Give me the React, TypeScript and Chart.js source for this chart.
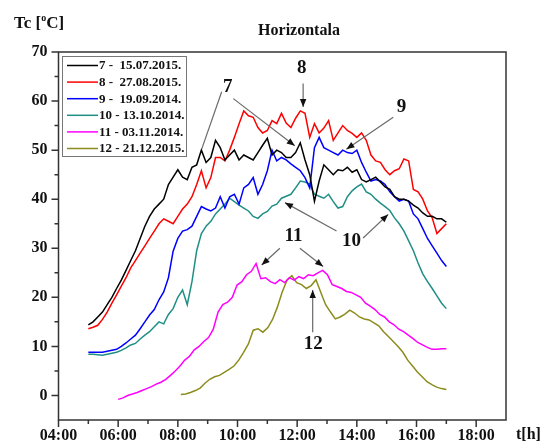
import React, { useEffect, useRef } from "react";
import { Chart, registerables } from "chart.js";

Chart.register(...registerables);

// ---------------- data ----------------
const seriesLabels = [
  "7 -  15.07.2015.",
  "8 -  27.08.2015.",
  "9 -  19.09.2014.",
  "10 - 13.10.2014.",
  "11 - 03.11.2014.",
  "12 - 21.12.2015.",
];
const seriesColors = ["#000000", "#ff0000", "#0000ff", "#1f8f86", "#ff00ff", "#8c8c1e"];
const seriesStartHour = [5, 5, 5, 5, 6, 8.1];
const seriesEndHour = [17, 17, 17, 17, 17, 17];

const s7 = [
  14.4, 15, 16, 17, 18.5, 20, 21.8, 23.5, 25.5, 27.5, 29.5, 32, 34.5, 36.5, 38, 39, 40, 43,
  44.5, 46, 44.5, 44, 46.5, 47, 50, 47.5, 48.5, 52, 50.5, 48, 49, 50, 48, 49, 48.5, 48,
  49.5, 51, 52.4, 49, 50, 49.5, 48.5, 48.5, 49.5, 51.5, 48, 45, 39.6, 43.7, 47, 46, 45, 46,
  45.8, 46.5, 45.5, 46, 44, 43.5, 44, 44.5, 43.5, 42.5, 42, 40.5, 40, 40, 39.6, 38.8, 38.2,
  37.2, 36.5, 36.5, 36, 36, 35.3,
];
const s8 = [
  13.6, 13.9, 14.3, 15.5, 17, 18.8, 20.5, 22.3, 24, 26, 27.5, 29, 30.5, 32, 33.5, 35, 36, 35.5,
  35, 36.5, 38, 39, 40.5, 43, 45.8, 42.3, 44.4, 48.5, 48.5, 47.8, 50, 52.6, 55.4, 58, 57, 56.7,
  54.6, 53.5, 54, 56, 55.4, 57.5, 55.5, 54.6, 56.5, 58, 57.5, 52.6, 55.4, 53.5, 54.5, 56, 52, 53.5,
  55, 54, 53.4, 52.6, 53.5, 52, 49, 47.8, 47.5, 46, 45, 45.8, 46.2, 48.2, 47.8, 42, 41.5, 40,
  37.6, 36.2, 33, 34, 35,
];
const s9 = [
  8.8, 8.8, 8.8, 8.8, 9, 9.2, 9.4, 10, 10.7, 11.5, 12.3, 13.6, 15, 16.4, 17.5, 19.5, 21.1, 24,
  29.4, 32, 33.5, 33.8, 34.5, 36.5, 38.5, 38, 37.6, 38.2, 40.5, 38.2, 40.5, 41, 39, 42.3, 43, 44.4,
  41, 43, 45.8, 50, 47.8, 48.5, 48, 47.2, 46.5, 45.8, 44.4, 42.3, 50.5, 52.6, 50.5, 50, 49.5, 49,
  50, 49.5, 49.3, 50, 47.5, 45.5, 43.7, 44, 43.7, 43, 41.5, 40.5, 39.6, 40, 39.6, 37, 36, 34,
  32, 30.5, 29, 27.5, 26.3,
];
const s10 = [
  8.4, 8.4, 8.3, 8.2, 8.4, 8.6, 8.8, 9.2, 9.7, 10.3, 10.6, 11.5, 12.3, 13, 14, 15, 14.6, 16.5,
  17.7, 20, 21.5, 18.5, 23.2, 29.5, 33, 34.5, 35.5, 37, 38, 39, 40.2, 39.5, 38.8, 38.2, 37.6, 36.5,
  36.1, 37, 37.5, 38.6, 39, 40.2, 40.6, 41, 42.3, 43.7, 43.5, 43.1, 41, 40.6, 40.2, 41, 39.5, 38.2,
  38.5, 40.5, 41.7, 42.5, 43.1, 41.5, 41, 40, 39.2, 38.5, 37.7, 36.2, 35, 33.5, 31.5, 29.5, 27, 24.8,
  23.2, 21.8, 20.3, 18.8, 17.7,
];
const s11 = [
  -0.8, -0.5, 0, 0.3, 0.6, 1, 1.4, 1.8, 2.3, 2.7, 3.3, 4.1, 5, 6, 7.2, 8, 9.3, 10, 11, 11.8,
  13.5, 17, 18.5, 19, 20, 22.5, 23.2, 24.6, 25.3, 26.9, 23.8, 24, 23.2, 22.8, 23.6, 23, 24, 23.5,
  24.2, 23.8, 24.6, 24.4, 25, 25.5, 24.6, 22.6, 22.2, 21.8, 21.2, 21, 20.5, 20, 18.8, 18.2, 17.5,
  16.5, 16, 15, 14.4, 13.5, 13, 12.3, 11.6, 10.8, 10.3, 9.8, 9.4, 9.4, 9.5, 9.5,
];
const s12 = [
  0.2, 0.3, 0.6, 1, 1.5, 2.5, 3.3, 3.8, 4.1, 4.7, 5.3, 6, 7.2, 8.8, 10.5, 13.3, 13.6, 12.9,
  13.8, 15.5, 18, 21.1, 23.5, 24.4, 23, 22.6, 21.8, 22.4, 23.6, 21, 18.5, 17, 15.6, 16, 16.6,
  17.4, 16.8, 16, 15.6, 15.4, 14.8, 14.2, 13, 12, 11, 10, 8.8, 7.2, 6, 4.8, 3.8, 2.8, 2.2, 1.7,
  1.4, 1.2,
];
const seriesValues = [s7, s8, s9, s10, s11, s12];

const xTickHours = [4, 6, 8, 10, 12, 14, 16, 18];
const xMinorHours = [5, 7, 9, 11, 13, 15, 17];
const yTickValues = [0, 10, 20, 30, 40, 50, 60, 70];
const yMinorValues = [5, 15, 25, 35, 45, 55, 65];

// annotation labels (text, hour, value)
const annotLabels = ["7", "8", "9", "10", "11", "12"];
const annotLabelPos = [
  [9.67, 62.9],
  [12.15, 66.7],
  [15.5, 58.8],
  [13.82, 31.4],
  [11.88, 32.4],
  [12.54, 10.5],
];
// arrows: [x1, y1, x2, y2, head]
const annotArrows = [
  [9.47, 61.9, 8.8, 50.2, 0],
  [9.86, 60.5, 11.92, 50.9, 1],
  [12.2, 63.6, 12.2, 58.8, 1],
  [15.22, 56.7, 13.65, 50.2, 1],
  [13.32, 33.5, 11.59, 39.3, 1],
  [14.21, 32.1, 15.05, 36.9, 1],
  [11.42, 30.0, 10.81, 26.6, 1],
  [12.09, 30.0, 12.87, 26.3, 1],
  [12.52, 12.9, 12.52, 21.5, 1],
];

const FONT = "'Liberation Serif', 'Times New Roman', serif";

function pad2(n: number) {
  return (n < 10 ? "0" : "") + n;
}

const overlayPlugin = {
  id: "overlay",
  afterDatasetsDraw(chart: any) {
    const ctx = chart.ctx;
    const xs = chart.scales.x;
    const ys = chart.scales.y;
    ctx.save();
    // arrows
    annotArrows.forEach((a) => {
      const x1 = xs.getPixelForValue(a[0]);
      const y1 = ys.getPixelForValue(a[1]);
      const x2 = xs.getPixelForValue(a[2]);
      const y2 = ys.getPixelForValue(a[3]);
      ctx.strokeStyle = "#6a6a6a";
      ctx.lineWidth = 1.2;
      ctx.beginPath();
      ctx.moveTo(x1, y1);
      ctx.lineTo(x2, y2);
      ctx.stroke();
      if (a[4]) {
        const ang = Math.atan2(y2 - y1, x2 - x1);
        const L = 8;
        const W = 3.2;
        ctx.fillStyle = "#111";
        ctx.beginPath();
        ctx.moveTo(x2, y2);
        ctx.lineTo(x2 - L * Math.cos(ang) + W * Math.sin(ang), y2 - L * Math.sin(ang) - W * Math.cos(ang));
        ctx.lineTo(x2 - L * Math.cos(ang) - W * Math.sin(ang), y2 - L * Math.sin(ang) + W * Math.cos(ang));
        ctx.closePath();
        ctx.fill();
      }
    });
    // labels
    ctx.fillStyle = "#111";
    ctx.font = `bold 19px ${FONT}`;
    ctx.textAlign = "center";
    ctx.textBaseline = "middle";
    annotLabels.forEach((t, i) => {
      ctx.fillText(t, xs.getPixelForValue(annotLabelPos[i][0]), ys.getPixelForValue(annotLabelPos[i][1]));
    });
    ctx.restore();
  },
  afterDraw(chart: any) {
    const ctx = chart.ctx;
    const area = chart.chartArea;
    const xs = chart.scales.x;
    const ys = chart.scales.y;
    ctx.save();
    // frame
    ctx.strokeStyle = "#333";
    ctx.lineWidth = 1.5;
    ctx.strokeRect(area.left, area.top, area.right - area.left, area.bottom - area.top);
    // ticks
    ctx.beginPath();
    xTickHours.forEach((h) => {
      const p = xs.getPixelForValue(h);
      ctx.moveTo(p, area.bottom);
      ctx.lineTo(p, area.bottom + 7);
    });
    xMinorHours.forEach((h) => {
      const p = xs.getPixelForValue(h);
      ctx.moveTo(p, area.bottom);
      ctx.lineTo(p, area.bottom + 4);
    });
    yTickValues.forEach((v) => {
      const p = ys.getPixelForValue(v);
      ctx.moveTo(area.left, p);
      ctx.lineTo(area.left - 7, p);
    });
    yMinorValues.forEach((v) => {
      const p = ys.getPixelForValue(v);
      ctx.moveTo(area.left, p);
      ctx.lineTo(area.left - 4, p);
    });
    ctx.stroke();

    ctx.fillStyle = "#111";
    // title
    ctx.font = `bold 16px ${FONT}`;
    ctx.textAlign = "center";
    ctx.textBaseline = "middle";
    ctx.fillText("Horizontala", 299, 31);
    // y axis label
    ctx.textAlign = "left";
    ctx.font = `bold 17px ${FONT}`;
    let x = 14;
    const yl = 24;
    ctx.fillText("Tc [", x, yl);
    x += ctx.measureText("Tc [").width;
    ctx.font = `bold 10px ${FONT}`;
    ctx.fillText("o", x, yl - 6);
    x += ctx.measureText("o").width;
    ctx.font = `bold 17px ${FONT}`;
    ctx.fillText("C]", x, yl);
    // x axis label
    ctx.font = `bold 16px ${FONT}`;
    ctx.fillText("t[h]", 516, 435);

    // legend
    const lx = 62;
    const ly = 56;
    const lw = 124;
    const lh = 100;
    ctx.fillStyle = "#fff";
    ctx.fillRect(lx, ly, lw, lh);
    ctx.strokeStyle = "#777";
    ctx.lineWidth = 1;
    ctx.strokeRect(lx + 0.5, ly + 0.5, lw, lh);
    ctx.font = `bold 13px ${FONT}`;
    ctx.textBaseline = "middle";
    ctx.textAlign = "left";
    seriesLabels.forEach((lab, i) => {
      const yy = ly + 9.5 + i * 16.6;
      ctx.strokeStyle = seriesColors[i];
      ctx.lineWidth = 1.5;
      ctx.beginPath();
      ctx.moveTo(lx + 5, yy);
      ctx.lineTo(lx + 36, yy);
      ctx.stroke();
      ctx.fillStyle = "#111";
      ctx.fillText(lab, lx + 37, yy + 0.5);
    });
    ctx.restore();
  },
};

export default function App() {
  const canvasRef = useRef<HTMLCanvasElement | null>(null);

  useEffect(() => {
    const canvas = canvasRef.current;
    if (!canvas) return;
    const datasets = seriesValues.map((vals, i) => {
      const n = vals.length;
      const t0 = seriesStartHour[i];
      const t1 = seriesEndHour[i];
      return {
        label: seriesLabels[i],
        data: vals.map((v, k) => ({ x: t0 + ((t1 - t0) * k) / (n - 1), y: v })),
        borderColor: seriesColors[i],
        backgroundColor: seriesColors[i],
        borderWidth: 1.5,
        pointRadius: 0,
        tension: 0,
        fill: false,
      };
    });
    const chart = new Chart(canvas, {
      type: "line",
      data: { datasets },
      options: {
        animation: false,
        responsive: false,
        maintainAspectRatio: false,
        layout: { padding: { top: 52, right: 39, left: 0, bottom: 0 } },
        plugins: { legend: { display: false }, title: { display: false }, tooltip: { enabled: false } },
        scales: {
          x: {
            type: "linear",
            min: 4,
            max: 19,
            afterBuildTicks: (s: any) => {
              s.ticks = xTickHours.map((v) => ({ value: v }));
            },
            afterFit: (s: any) => {
              s.height = 25;
            },
            grid: { display: false, drawTicks: false },
            border: { display: false },
            ticks: {
              autoSkip: false,
              maxRotation: 0,
              padding: 6,
              color: "#111",
              font: { family: FONT, size: 16, weight: "bold" },
              callback: (v: any) => pad2(Number(v)) + ":00",
            },
          },
          y: {
            type: "linear",
            min: -5,
            max: 70,
            afterBuildTicks: (s: any) => {
              s.ticks = yTickValues.map((v) => ({ value: v }));
            },
            afterFit: (s: any) => {
              s.width = 58.5;
            },
            grid: { display: false, drawTicks: false },
            border: { display: false },
            ticks: {
              padding: 11,
              color: "#111",
              font: { family: FONT, size: 16, weight: "bold" },
              callback: (v: any) => String(v),
            },
          },
        },
      },
      plugins: [overlayPlugin],
    } as any);
    return () => chart.destroy();
  }, []);

  return (
    <div style={{ position: "fixed", left: 0, top: 0, width: 545, height: 445, background: "#fff" }}>
      <canvas ref={canvasRef} width={545} height={445} style={{ width: 545, height: 445, display: "block" }} />
    </div>
  );
}
